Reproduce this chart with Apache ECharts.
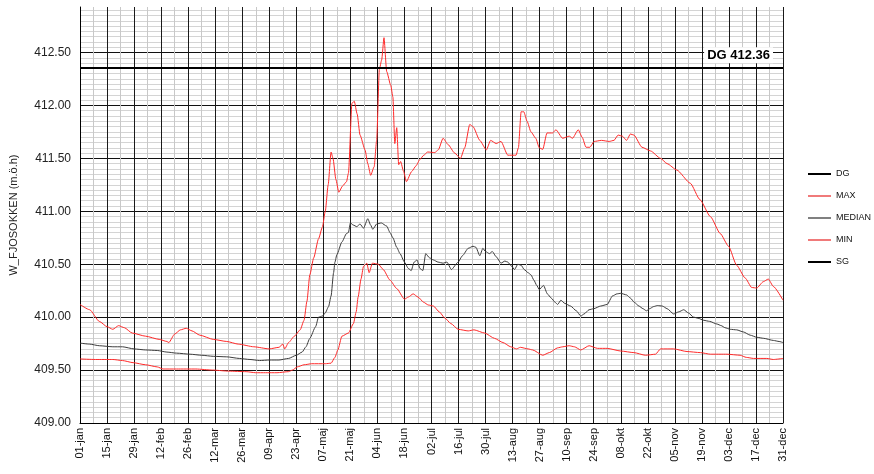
<!DOCTYPE html>
<html>
<head>
<meta charset="utf-8">
<script src="https://cdn.jsdelivr.net/npm/echarts@6/dist/echarts.min.js"></script>
<style>
  html, body { margin: 0; padding: 0; background: #fff; }
  #chart { width: 874px; height: 474px; }
</style>
</head>
<body>
<div id="chart"></div>
<script>
// Day of year (0 = 01-jan) and water level (m.ö.h)
const maxSeries = [
  [0,410.12],[5,410.07],[10,409.96],[14,409.91],[17,409.885],[20,409.92],[23,409.90],[27,409.85],
  [34,409.82],[41,409.79],[45,409.77],[46,409.76],[49,409.84],[52,409.88],[55,409.895],[58,409.87],
  [62,409.83],[69,409.79],[76,409.77],[82,409.745],[90,409.72],[98,409.70],[103,409.715],[105,409.745],
  [106,409.70],[108,409.76],[111,409.82],[114,409.88],[116,409.97],[117.5,410.15],[119,410.40],
  [121,410.56],[123.5,410.74],[125.5,410.85],[127,411.0],[128.5,411.25],[130,411.56],[131,411.50],
  [132.5,411.30],[134,411.18],[136,411.24],[138,411.28],[139,411.36],[140.8,412.02],[142,412.04],
  [143.5,411.92],[145,411.72],[147.6,411.58],[149,411.45],[150.5,411.34],[152.3,411.42],[153.6,411.67],
  [155,412.34],[156.2,412.43],[157.4,412.64],[158.8,412.32],[160.9,412.19],[162,412.08],[163,411.64],
  [164,411.79],[165,411.44],[166,411.47],[167.5,411.38],[169,411.28],[171.7,411.375],[174,411.43],
  [176,411.49],[178,411.53],[180,411.56],[183.7,411.555],[185.5,411.58],[188,411.69],[190.6,411.63],
  [194,411.55],[197,411.50],[199.2,411.60],[201.8,411.82],[203.5,411.80],[207,411.67],[210.4,411.58],
  [212.6,411.67],[215.5,411.64],[218,411.66],[221.5,411.53],[225.8,411.53],[227,411.60],[228.4,411.94],
  [229.8,411.94],[231.5,411.85],[233.5,411.75],[236,411.69],[237.8,411.60],[239.6,411.585],[241.8,411.74],
  [244.7,411.74],[246.4,411.77],[249.9,411.69],[253.3,411.71],[255,411.69],[258,411.77],[260,411.70],
  [262,411.605],[264,411.605],[266.2,411.66],[270,411.67],[274,411.66],[276.5,411.67],[278.6,411.72],
  [280.8,411.71],[283,411.67],[285,411.73],[286.8,411.72],[291,411.605],[295.4,411.57],[300.6,411.50],
  [304,411.45],[309,411.39],[316,411.265],[321,411.11],[326.4,410.95],[331.5,410.79],[335.8,410.67],
  [340,410.49],[344.4,410.37],[347.8,410.28],[350.4,410.275],[353.8,410.335],[356.4,410.36],[359,410.29],
  [364,410.16]
];

const medianSeries = [
  [0,409.755],[5,409.745],[10,409.73],[17,409.72],[22,409.72],[28,409.70],[34,409.69],[40,409.685],
  [45,409.67],[50,409.66],[57,409.65],[63,409.64],[69,409.63],[76,409.625],[82.5,409.61],[88,409.60],
  [93,409.59],[98,409.595],[103,409.595],[108,409.61],[112,409.64],[115,409.67],[117,409.72],[119,409.80],
  [122,409.91],[123.5,410.00],[125.5,410.01],[127,410.04],[128.7,410.10],[130,410.20],[131.3,410.42],
  [132,410.52],[133,410.59],[135.6,410.71],[138,410.79],[139,410.80],[140,410.89],[141.5,410.87],
  [143.3,410.855],[145,410.88],[146.8,410.84],[149,410.93],[150.5,410.87],[151.6,410.83],[153.6,410.88],
  [156,410.89],[158.8,410.86],[160.5,410.80],[162,410.75],[164,410.66],[165.7,410.60],[168,410.52],
  [170,410.46],[171.5,410.44],[173,410.52],[174.5,410.54],[176,410.46],[177.5,410.44],[179,410.60],
  [181,410.56],[183,410.54],[185.4,410.52],[188,410.51],[190,410.52],[192.3,410.45],[195.8,410.52],
  [198,410.58],[201,410.65],[203.5,410.67],[205,410.66],[207,410.58],[208.6,410.65],[210,410.62],
  [212,410.60],[213.5,410.62],[215.5,410.57],[218,410.51],[220,410.53],[221.5,410.52],[223.5,410.48],
  [225,410.45],[226.7,410.50],[228.4,410.49],[230,410.45],[232,410.42],[233.5,410.40],[235,410.35],
  [236.5,410.30],[237.8,410.26],[240,410.30],[242,410.22],[244,410.18],[246,410.14],[247.3,410.12],
  [249,410.16],[251,410.13],[254,410.105],[257,410.06],[259.3,410.01],[261,410.03],[263.6,410.07],
  [266,410.08],[269.6,410.105],[273,410.12],[275.7,410.20],[278,410.22],[280,410.225],[283,410.21],
  [285,410.18],[287,410.14],[289.4,410.105],[291.5,410.08],[293.3,410.06],[295,410.08],[297,410.10],
  [299,410.11],[301.5,410.105],[304,410.08],[307.4,410.03],[310,410.05],[312.6,410.07],[315,410.04],
  [317.7,410.00],[320,409.99],[323,409.97],[326,409.96],[329.8,409.935],[332,409.92],[334,409.90],
  [336.7,409.885],[340,409.88],[343.5,409.86],[347,409.83],[350.4,409.81],[354,409.80],[359,409.78],
  [362,409.77],[364,409.76]
];

const minSeries = [
  [0,409.605],[8,409.60],[17,409.60],[22,409.59],[27.5,409.57],[34,409.55],[40,409.53],[43,409.51],
  [50,409.51],[60,409.51],[68.7,409.50],[77,409.49],[86,409.485],[91,409.475],[96,409.475],[102,409.475],
  [108,409.485],[110,409.50],[112.5,409.53],[116,409.55],[120,409.56],[127,409.56],[130,409.565],
  [132,409.62],[133.5,409.69],[135.6,409.82],[139,409.85],[141.6,409.94],[143,410.05],[144,410.19],
  [145.5,410.36],[146.8,410.48],[148.5,410.51],[149.7,410.42],[151.4,410.51],[154.5,410.50],[157,410.45],
  [160.5,410.35],[164,410.27],[168,410.17],[170,410.19],[172.5,410.22],[175,410.19],[178,410.14],
  [180.3,410.115],[183,410.105],[186,410.05],[189,409.99],[192,409.94],[195.8,409.885],[201,409.87],
  [204,409.88],[209.5,409.85],[214.6,409.80],[219,409.76],[223,409.72],[226,409.70],[228,409.715],
  [232,409.70],[234.4,409.69],[239.6,409.64],[243,409.665],[247.3,409.71],[250,409.72],[253.3,409.73],
  [256,409.72],[259.3,409.69],[263.6,409.73],[268,409.705],[273,409.705],[280,409.68],[286.8,409.665],
  [292.8,409.64],[298,409.65],[300.6,409.70],[307.4,409.70],[314.3,409.675],[321.2,409.665],[326.4,409.65],
  [335,409.65],[341.8,409.64],[345,409.62],[348.7,409.61],[355.6,409.61],[359,409.60],[364,409.61]
];

// Regulation limits
const dgLevel = 412.36;
const sgLevel = 409.00;

// Axis labels, one every 14 days
const tickLabels = [
  '01-jan','15-jan','29-jan','12-feb','26-feb','12-mar','26-mar','09-apr','23-apr','07-maj',
  '21-maj','04-jun','18-jun','02-jul','16-jul','30-jul','13-aug','27-aug','10-sep','24-sep',
  '08-okt','22-okt','05-nov','19-nov','03-dec','17-dec','31-dec'
];

const FONT = 'Liberation Sans, Arial, sans-serif';
const RED = '#ff2a2a';

// Every 0.50 m a dark grid line, every 0.05 m a light one
const yGridColors = [];
for (let i = 0; i < 10; i++) yGridColors.push(i === 0 ? '#111' : '#d4d4d4');

const chart = echarts.init(document.getElementById('chart'), null, { renderer: 'canvas' });

const lineBase = {
  type: 'line',
  showSymbol: false,
  smooth: 0.2,
  smoothMonotone: 'x'
};

chart.setOption({
  animation: false,
  backgroundColor: '#fff',
  textStyle: { fontFamily: FONT },
  grid: { left: 77, right: 91, top: 7, bottom: 51, containLabel: false },
  legend: {
    orient: 'vertical',
    left: 808,
    top: 168,
    padding: 0,
    itemWidth: 23,
    itemHeight: 2,
    itemGap: 10,
    icon: 'rect',
    textStyle: { fontSize: 9, color: '#111', fontFamily: FONT, lineHeight: 12 },
    data: [
      { name: 'DG', itemStyle: { color: '#000' } },
      { name: 'MAX', itemStyle: { color: '#f07a7a' } },
      { name: 'MEDIAN', itemStyle: { color: '#808080' } },
      { name: 'MIN', itemStyle: { color: '#f07a7a' } },
      { name: 'SG', itemStyle: { color: '#000' } }
    ]
  },
  xAxis: {
    type: 'value',
    min: 0,
    max: 364,
    interval: 7,
    axisLine: { show: true, lineStyle: { color: '#000', width: 1 } },
    axisTick: { show: false },
    axisLabel: {
      rotate: 90,
      fontSize: 11,
      color: '#111',
      margin: 5,
      fontFamily: FONT,
      formatter: function (v) {
        return v % 14 === 0 ? (tickLabels[v / 14] || '') : '';
      }
    },
    splitLine: { show: true, lineStyle: { color: ['#1a1a1a', '#c8c8c8'], width: 1 } }
  },
  yAxis: {
    type: 'value',
    min: 409,
    max: 412.93,
    interval: 0.05,
    name: 'W_FJOSOKKEN (m.ö.h)',
    nameLocation: 'middle',
    nameGap: 61,
    nameTextStyle: { fontSize: 11, color: '#222', fontFamily: FONT },
    axisLine: { show: true, lineStyle: { color: '#000', width: 1 } },
    axisTick: { show: false },
    axisLabel: {
      fontSize: 12,
      color: '#222',
      margin: 9,
      fontFamily: FONT,
      showMaxLabel: false,
      formatter: function (v) {
        const k = v * 2;
        return Math.abs(k - Math.round(k)) < 1e-6 ? v.toFixed(2) : '';
      }
    },
    splitLine: { show: true, showMaxLine: false, lineStyle: { color: yGridColors, width: 1 } }
  },
  series: [
    {
      name: 'DG',
      type: 'line',
      data: [],
      color: '#000',
      markLine: {
        silent: true,
        symbol: 'none',
        lineStyle: { color: '#000', width: 2, type: 'solid' },
        label: {
          show: true,
          position: 'insideEndTop',
          formatter: 'DG ' + dgLevel.toFixed(2),
          fontFamily: FONT,
          fontSize: 13,
          fontWeight: 'bold',
          color: '#000',
          backgroundColor: '#fff',
          padding: [2, 3, 1, 3],
          distance: [10, 4]
        },
        data: [{ yAxis: dgLevel }]
      }
    },
    Object.assign({}, lineBase, {
      name: 'MAX',
      data: maxSeries,
      color: RED,
      lineStyle: { color: RED, width: 1 }
    }),
    Object.assign({}, lineBase, {
      name: 'MEDIAN',
      data: medianSeries,
      color: '#3c3c3c',
      lineStyle: { color: '#3c3c3c', width: 1 }
    }),
    Object.assign({}, lineBase, {
      name: 'MIN',
      data: minSeries,
      color: RED,
      lineStyle: { color: RED, width: 1 }
    }),
    {
      name: 'SG',
      type: 'line',
      data: [],
      color: '#000',
      markLine: {
        silent: true,
        symbol: 'none',
        label: { show: false },
        lineStyle: { color: '#000', width: 1, type: 'solid' },
        data: [{ yAxis: sgLevel }]
      }
    }
  ]
});
</script>
</body>
</html>
